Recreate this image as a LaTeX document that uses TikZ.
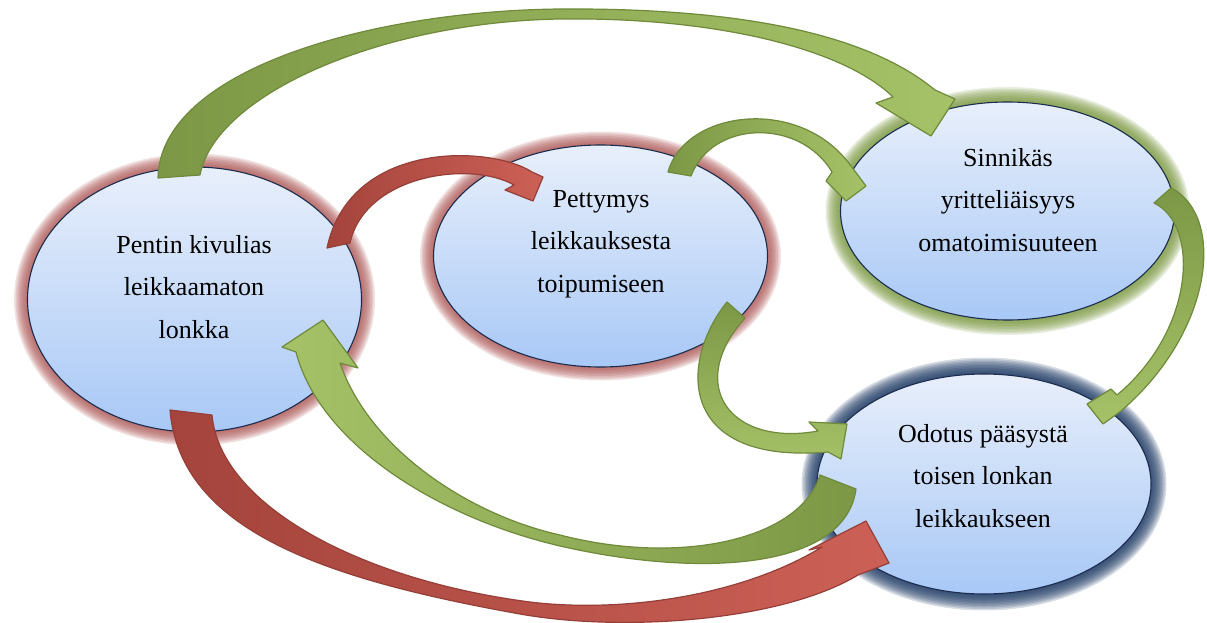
\documentclass[tikz,border=0pt]{standalone}
\usepackage{fontspec}
\setmainfont{Liberation Serif}
\usetikzlibrary{shapes.geometric}
\pgfdeclarelayer{background}
\pgfsetlayers{background,main}

\definecolor{bubtop}{RGB}{232,239,251}
\definecolor{bubbot}{RGB}{168,200,246}
\definecolor{rim}{RGB}{28,44,78}
\definecolor{glowred}{RGB}{170,84,82}
\definecolor{glowgreen}{RGB}{122,152,64}
\definecolor{glowblue}{RGB}{30,58,100}
\definecolor{grdark}{RGB}{124,152,70}
\definecolor{grlight}{RGB}{166,194,104}
\definecolor{grline}{RGB}{110,138,58}
\definecolor{rddark}{RGB}{164,68,60}
\definecolor{rdlight}{RGB}{204,96,86}
\definecolor{rdline}{RGB}{150,62,56}

\tikzset{
  bubble/.style={ellipse, draw=rim, line width=1.1pt, top color=bubtop,
    bottom color=bubbot, inner sep=0pt, minimum width=334pt},
  caption/.style={align=center, font=\fontsize{26}{42.5}\selectfont, text=black},
  greenarrow/.style={draw=grline, line width=1.2pt, line join=round},
  redarrow/.style={draw=rdline, line width=1.2pt, line join=round},
}

% soft halo around an ellipse: node, x radius, y radius, colour, widest stroke
\newcommand\bubbleglow[5]{%
  \begin{pgfonlayer}{background}
    \foreach \w in {3,6,...,#5}
      \draw[#4, opacity=0.17, line width=\w pt] (#1.center) ellipse [x radius=#2, y radius=#3];
  \end{pgfonlayer}}

\begin{document}
\begin{tikzpicture}[x=1pt, y=-1pt]
\useasboundingbox (0,0) rectangle (1207,623);

% the four states
\node[bubble, minimum height=265pt] (L) at (194.5,299.5) {};
\node[bubble, minimum height=222pt] (M) at (600.5,256) {};
\node[bubble, minimum height=218pt] (S) at (1007.5,211) {};
\node[bubble, minimum height=220pt] (O) at (984,484) {};

\bubbleglow{L}{167}{132.5}{glowred}{27}
\bubbleglow{M}{167}{111}{glowred}{27}
\bubbleglow{S}{167}{109}{glowgreen}{30}
\bubbleglow{O}{166}{110}{glowblue}{33}

\node[caption] (Ltxt) at (194,287) {Pentin kivulias\\leikkaamaton\\lonkka};
\node[caption] (Mtxt) at (601,244) {Pettymys\\leikkauksesta\\toipumiseen};
\node[caption] (Stxt) at (1008,200) {Sinnikäs\\yritteliäisyys\\omatoimisuuteen};
\node[caption] (Otxt) at (983,476) {Odotus pääsystä\\toisen lonkan\\leikkaukseen};

% L -> S, wide arc over the top
\path[greenarrow, left color=grdark, right color=grlight]
  (158,178) -- (200,175)
  .. controls (215,95) and (380,22) .. (560,19)
  .. controls (720,17) and (845,50) .. (893,97)
  -- (876,103) -- (931,136) -- (955,99) -- (935,90)
  .. controls (860,28) and (720,8) .. (560,9)
  .. controls (370,11) and (160,70) .. (158,178) -- cycle;

% L -> M
\path[redarrow, left color=rddark, right color=rdlight]
  (327,248) -- (350,243)
  .. controls (365,175) and (470,160) .. (514,185)
  -- (505,190) -- (533,201) -- (543,177) -- (532,172)
  .. controls (490,145) and (350,140) .. (327,248) -- cycle;

% M -> S
\path[greenarrow, left color=grdark, right color=grlight]
  (668,172) -- (691,176)
  .. controls (712,120) and (800,118) .. (832,172)
  -- (826,181) -- (846,201) -- (866,186) -- (851,166)
  .. controls (800,95) and (685,110) .. (668,172) -- cycle;

% M -> O
\path[greenarrow, top color=grdark, bottom color=grlight]
  (727,302) -- (745,318)
  .. controls (685,385) and (730,447) .. (818,431)
  -- (809,422) -- (847,424) -- (841,459) -- (828,452)
  .. controls (675,465) and (680,360) .. (727,302) -- cycle;

% S -> O, down the right side
\path[greenarrow, top color=grdark, bottom color=grlight]
  (1171,188) -- (1154,203)
  .. controls (1200,225) and (1195,330) .. (1117,395)
  -- (1111,389) -- (1087,404) -- (1103,424) -- (1121,411)
  .. controls (1215,330) and (1225,215) .. (1171,188) -- cycle;

% O -> L, long sweep underneath
\path[greenarrow, left color=grlight, right color=grdark]
  (820,475) -- (856,489)
  .. controls (845,570) and (700,578) .. (560,546)
  .. controls (440,518) and (320,445) .. (296,352)
  -- (282,347) -- (323,320) -- (358,368) -- (340,363)
  .. controls (370,450) and (470,515) .. (560,535)
  .. controls (680,566) and (800,540) .. (820,475) -- cycle;

% L -> O, along the bottom edge
\path[redarrow, left color=rddark, right color=rdlight]
  (170,410) -- (212,415)
  .. controls (220,505) and (360,580) .. (530,602)
  .. controls (620,613) and (740,597) .. (822,547)
  -- (809,550) -- (866,521) -- (889,563) -- (858,575)
  .. controls (780,622) and (620,632) .. (520,614)
  .. controls (330,580) and (180,532) .. (170,410) -- cycle;
\end{tikzpicture}
\end{document}
